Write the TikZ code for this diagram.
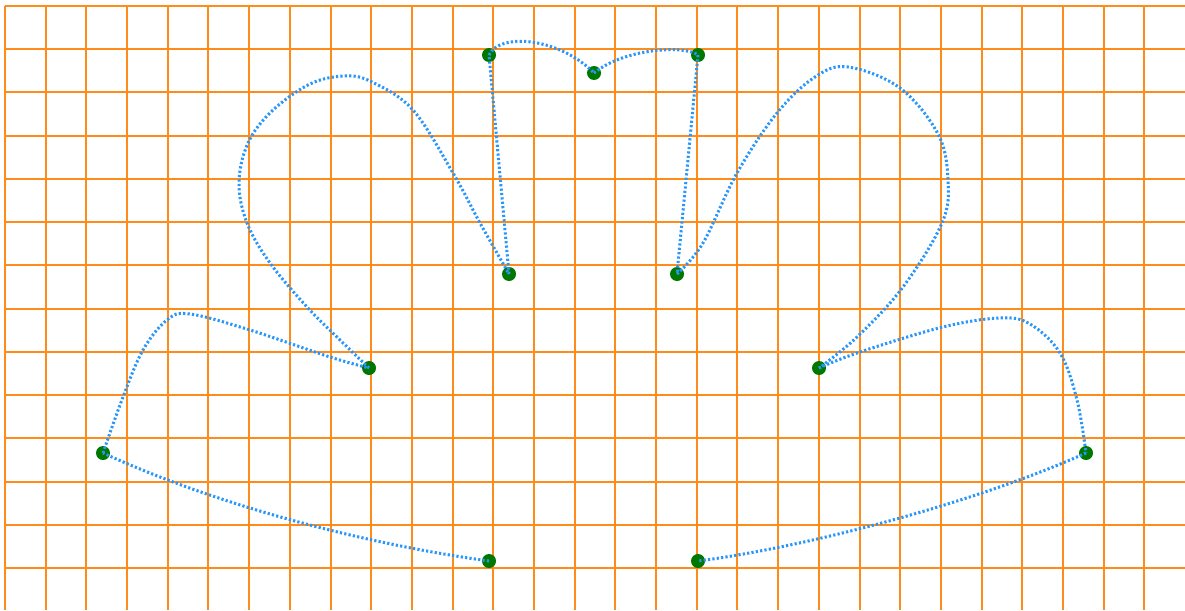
\documentclass[tikz,border=0pt]{standalone}
\usetikzlibrary{calc}
\definecolor{gridorange}{RGB}{255,140,26}
\definecolor{curveblue}{RGB}{40,150,250}
\definecolor{dotgreen}{RGB}{0,120,0}
\tikzset{
  gridline/.style={draw=gridorange, line width=2pt},
  curve/.style={draw=curveblue, line width=3pt, dash pattern=on 2.2pt off 2.2pt},
  ptdot/.style={circle, fill=dotgreen, inner sep=0pt, minimum size=14pt}
}
\begin{document}
\begin{tikzpicture}[x=1pt,y=-1pt]
\useasboundingbox (0,0) rectangle (1185,610);
\fill[white] (0,0) rectangle (1185,610);
% grid
\foreach \k in {0,...,28} {
  \draw[gridline] ({5+40.69*\k},6) -- ({5+40.69*\k},610);
}
\foreach \k in {0,...,13} {
  \draw[gridline] (5,{6+43.23*\k}) -- (1185,{6+43.23*\k});
}
% points
\node[ptdot] (A1) at (489,55) {};
\node[ptdot] (M)  at (594,73) {};
\node[ptdot] (A2) at (698,55) {};
\node[ptdot] (B1) at (509,274) {};
\node[ptdot] (B2) at (677,274) {};
\node[ptdot] (C1) at (369,368) {};
\node[ptdot] (C2) at (819,368) {};
\node[ptdot] (D1) at (103,453) {};
\node[ptdot] (D2) at (1086,453) {};
\node[ptdot] (E1) at (489,561) {};
\node[ptdot] (E2) at (698,561) {};
% curves
\draw[curve] (E1.center) .. controls (380,546) and (230,511) .. (D1.center);
\draw[curve] plot[smooth, tension=0.6] coordinates {(D1.center) (123,397) (143,350) (167,320) (190,314) (250,330) (330,357) (C1.center)};
\draw[curve] plot[smooth, tension=0.6] coordinates {(C1.center) (340,340) (307,307) (270,263) (247,223) (239,183) (248,143) (272,111) (310,84) (345,76) (372,82) (413,110) (453,173) (480,223) (B1.center)};
\draw[curve] (B1.center) -- (A1.center);
\draw[curve] (A1.center) .. controls (500,32) and (560,38) .. (M.center);
\draw[curve] (M.center) .. controls (625,48) and (685,45) .. (A2.center);
\draw[curve] (A2.center) -- (B2.center);
\draw[curve] plot[smooth, tension=0.6] coordinates {(B2.center) (703,243) (737,173) (777,113) (815,77) (848,67) (900,88) (938,134) (948,180) (942,223) (903,287) (857,337) (C2.center)};
\draw[curve] plot[smooth, tension=0.6] coordinates {(C2.center) (860,352) (943,327) (1000,318) (1030,324) (1060,353) (1077,400) (D2.center)};
\draw[curve] (D2.center) .. controls (970,505) and (800,548) .. (E2.center);
\end{tikzpicture}
\end{document}
